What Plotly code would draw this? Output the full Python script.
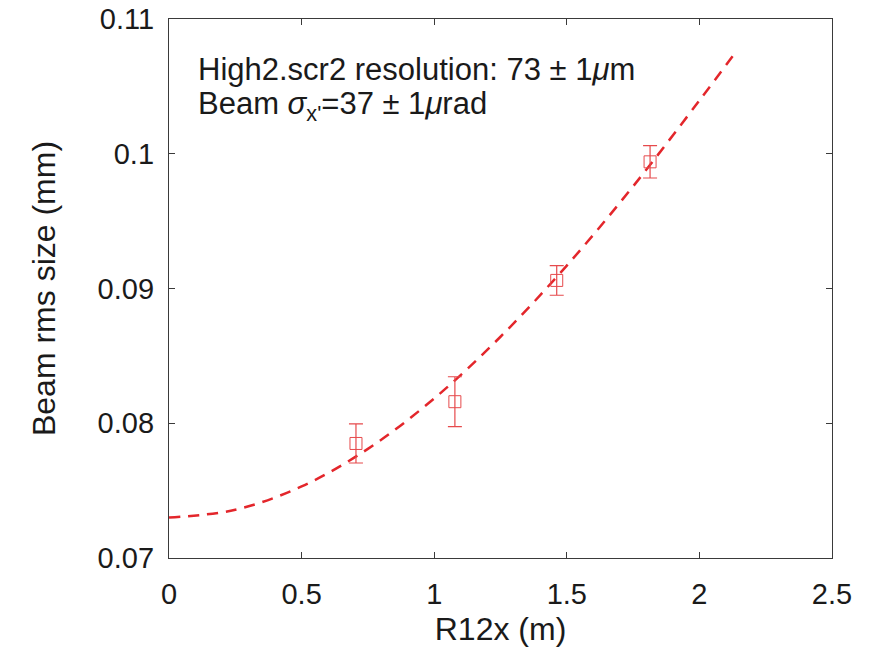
import plotly.graph_objects as go

# Measured points
r12x = [0.705, 1.078, 1.462, 1.814]
beam_size = [0.0785, 0.0816, 0.0906, 0.0994]
beam_err = [0.00145, 0.00185, 0.0011, 0.0012]

# Fit curve
fit_x = [0.0, 0.25, 0.5, 0.75, 1.0, 1.25, 1.5, 1.75, 2.0, 2.135]
fit_y = [0.0730, 0.07358, 0.07531, 0.07810, 0.08184, 0.08642, 0.09170, 0.09758, 0.10395, 0.10750]

x_ticks = [0, 0.5, 1, 1.5, 2, 2.5]
x_tick_labels = ["0", "0.5", "1", "1.5", "2", "2.5"]
y_ticks = [0.07, 0.08, 0.09, 0.1, 0.11]
y_tick_labels = ["0.07", "0.08", "0.09", "0.1", "0.11"]

font_family = "Liberation Sans, Arial, Helvetica, sans-serif"
axis_color = "#3a3a3a"
text_color = "#1a1a1a"

fig = go.Figure()
fig.add_trace(go.Scatter(
    x=fit_x, y=fit_y, mode="lines",
    line=dict(color="#e3262b", width=2.5, dash="11px,8px", shape="spline"),
    showlegend=False, hoverinfo="skip",
))
fig.add_trace(go.Scatter(
    x=r12x, y=beam_size, mode="markers",
    marker=dict(symbol="square-open", size=12, color="#e64a4c", line=dict(width=1)),
    error_y=dict(type="data", array=beam_err, visible=True, color="#e64a4c",
                 thickness=1.2, width=7),
    showlegend=False,
))

fig.add_annotation(
    x=0.04, y=0.907, xref="paper", yref="paper", xanchor="left", yanchor="middle",
    text="High2.scr2 resolution: 73 \u00b1 1<i>\u03bc</i>m", showarrow=False,
    font=dict(family=font_family, size=31, color=text_color),
)
fig.add_annotation(
    x=0.04, y=0.838, xref="paper", yref="paper", xanchor="left", yanchor="middle",
    text="Beam <i>\u03c3</i><sub>x'</sub>=37 \u00b1 1<i>\u03bc</i>rad", showarrow=False,
    font=dict(family=font_family, size=31, color=text_color),
)

axis_common = dict(
    showgrid=False, zeroline=False, showline=True, linecolor=axis_color, linewidth=1.3,
    mirror="ticks", ticks="inside", ticklen=6, tickcolor=axis_color, tickwidth=1,
    tickfont=dict(family=font_family, size=29, color=text_color), automargin=False,
)
fig.update_xaxes(
    range=[0, 2.5], tickvals=x_ticks, ticktext=x_tick_labels, ticklabelstandoff=10,
    title=dict(text="R12x (m)", font=dict(family=font_family, size=32, color=text_color), standoff=8),
    **axis_common,
)
fig.update_yaxes(
    range=[0.07, 0.11], tickvals=y_ticks, ticktext=y_tick_labels, ticklabelstandoff=8,
    title=dict(text="Beam rms size (mm)", font=dict(family=font_family, size=32, color=text_color), standoff=32),
    **axis_common,
)
fig.update_layout(
    width=880, height=659,
    margin=dict(l=169, r=48, t=19, b=101),
    plot_bgcolor="white", paper_bgcolor="white",
)
fig.write_html("out.html")
